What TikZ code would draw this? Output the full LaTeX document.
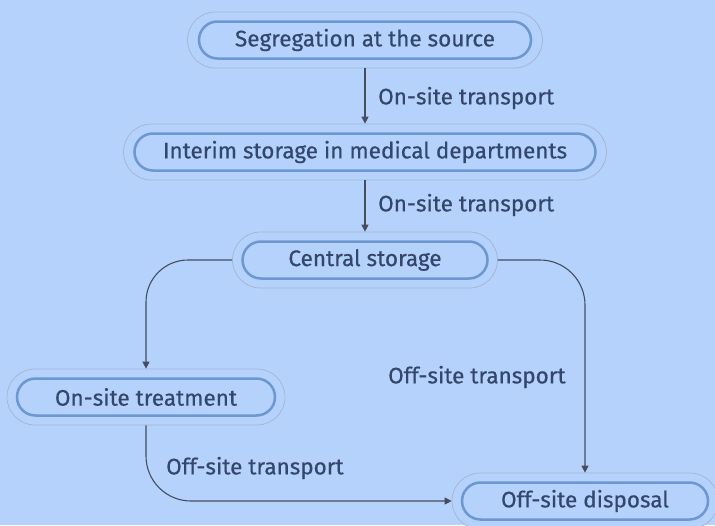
\documentclass[tikz,border=0pt]{standalone}
\usepackage{fontspec}
\setmainfont{Fira Sans}
\newfontfamily\dfont{Fira Sans}[FakeBold=0.5]
\usetikzlibrary{shapes.misc,arrows.meta}
\definecolor{bgc}{HTML}{B4D2FC}
\definecolor{outerc}{HTML}{A3B4CC}
\definecolor{innerc}{HTML}{6C97D0}
\definecolor{textc}{HTML}{34466A}
\definecolor{linec}{HTML}{454D5E}
\tikzset{
  outerbox/.style={draw=outerc, line width=0.7pt, rounded rectangle, minimum height=56pt, inner sep=0pt, fill=bgc},
  innerbox/.style={draw=innerc, line width=2.5pt, rounded rectangle, minimum height=37pt, inner sep=0pt, text=textc, font=\dfont\fontsize{22.5}{26}\selectfont},
  conn/.style={draw=linec, line width=1.1pt, -{Triangle[length=7pt,width=7pt]}},
  lbl/.style={text=textc, font=\dfont\fontsize{22.5}{26}\selectfont, anchor=west, inner sep=0pt}
}
\begin{document}
\begin{tikzpicture}[x=1pt,y=-1pt]
\fill[bgc] (0,0) rectangle (715,525);
\useasboundingbox (0,0) rectangle (715,525);
% nodes
\node[outerbox, minimum width=355pt] (seg) at (365,40) {};
\node[innerbox, minimum width=332pt] (segin) at (seg) {Segregation at the source};
\node[outerbox, minimum width=483pt] (int) at (365,152) {};
\node[innerbox, minimum width=461pt] (intin) at (int) {Interim storage in medical departments};
\node[outerbox, minimum width=265pt] (cen) at (365,260) {};
\node[innerbox, minimum width=245pt] (cenin) at (cen) {Central storage};
\node[outerbox, minimum width=278pt] (ons) at (146,397) {};
\node[innerbox, minimum width=258pt] (onsin) at (ons) {On-site treatment};
\node[outerbox, minimum width=266pt] (off) at (585,501) {};
\node[innerbox, minimum width=246pt] (offin) at (off) {Off-site disposal};
% connectors
\draw[conn] (seg.south) -- (int.north);
\draw[conn] (int.south) -- (cen.north);
\draw[conn, rounded corners=42pt] (cen.west) -| (ons.north);
\draw[conn, rounded corners=45pt] (cen.east) -| (off.north);
\draw[conn, rounded corners=45pt] (ons.south) |- (off.west);
% labels
\node[lbl] (l1) at (378,98) {On-site transport};
\node[lbl] (l2) at (378,205) {On-site transport};
\node[lbl] (l3) at (388,377) {Off-site transport};
\node[lbl] (l4) at (166,468) {Off-site transport};
\end{tikzpicture}
\end{document}
